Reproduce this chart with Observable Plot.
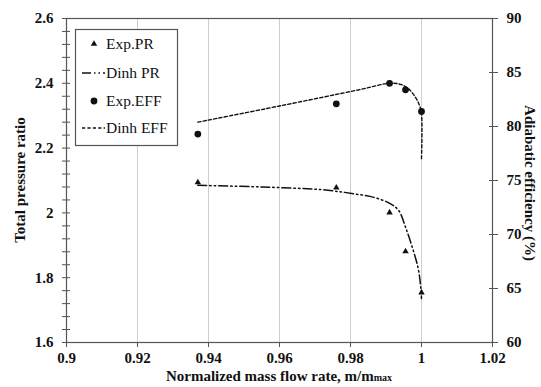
<!DOCTYPE html>
<html>
<head>
<meta charset="utf-8">
<script src="https://cdn.jsdelivr.net/npm/d3@7"></script>
<script src="https://cdn.jsdelivr.net/npm/@observablehq/plot@0.6"></script>
<style>
  html, body { margin: 0; padding: 0; background: #fff; }
</style>
</head>
<body>
<div id="chart"></div>
<script>
// ---- data ----
const expX = [0.937, 0.976, 0.991, 0.9955, 1.0];
const expPR = [2.094, 2.078, 2.001, 1.881, 1.754];
const expEFF = [79.3, 82.1, 84.0, 83.4, 81.4];

const dinhPRx = [0.937, 0.955, 0.9716, 0.9758, 0.9809, 0.9866, 0.9913, 0.9936, 0.9955, 0.9974, 0.999, 0.9997, 1.0];
const dinhPR  = [2.085, 2.080, 2.072, 2.067, 2.059, 2.048, 2.028, 2.007, 1.956, 1.894, 1.832, 1.781, 1.736];

const dinhEFFx = [0.937, 0.960, 0.9828, 0.991, 0.9941, 0.9963, 0.9983, 0.9995, 1.0, 1.0];
const dinhEFF  = [80.4, 81.9, 83.43, 84.0, 83.9, 83.5, 82.7, 81.9, 81.2, 77.0];

const xTicks = [0.9, 0.92, 0.94, 0.96, 0.98, 1.0, 1.02];
const xTickLabels = ["0.9", "0.92", "0.94", "0.96", "0.98", "1", "1.02"];
const prTicks = [1.6, 1.8, 2.0, 2.2, 2.4, 2.6];
const prTickLabels = ["1.6", "1.8", "2", "2.2", "2.4", "2.6"];
const prMinor = d3.range(26).map(i => +(1.6 + i * 0.04).toFixed(2));
const effTicks = [60, 65, 70, 75, 80, 85, 90];
const effTickLabels = ["60", "65", "70", "75", "80", "85", "90"];

const legendItems = ["Exp.PR", "Dinh PR", "Exp.EFF", "Dinh EFF"];

// secondary axis mapping: efficiency 60..90 onto pressure ratio 1.6..2.6
const toPR = e => 1.6 + (e - 60) / 30;
const effTicksPR = effTicks.map(toPR);

const INK = "#111";
const AX = "#555";
const PR_DASH = "9,3,1.5,3,1.5,3";
const EFF_DASH = "3.2,2.2";

const chart = Plot.plot({
  width: 541,
  height: 387,
  marginLeft: 66,
  marginRight: 49,
  marginTop: 18,
  marginBottom: 45,
  style: {
    fontFamily: "'Liberation Serif', 'Times New Roman', serif",
    fontSize: "15px",
    color: INK,
    background: "#fff",
    overflow: "visible"
  },
  x: { domain: [0.9, 1.02] },
  y: { domain: [1.6, 2.6] },
  marks: [
    Plot.gridX(xTicks.slice(1, -1), { stroke: "#cfcfcf", strokeOpacity: 1 }),
    Plot.frame({ stroke: AX, strokeWidth: 1.2 }),
    // bottom axis
    Plot.axisX(xTicks, { tickSize: 5, fill: "none", stroke: AX, label: null }),
    Plot.axisX(xTicks, { tickSize: 0, tickPadding: 10, fontWeight: "bold", fontSize: 15,
      tickFormat: d => xTickLabels[xTicks.indexOf(d)], label: null }),
    // left axis
    Plot.axisY(prMinor, { anchor: "left", tickSize: 8, dx: 4, fill: "none", stroke: AX, label: null }),
    Plot.axisY(prTicks, { anchor: "left", tickSize: 0, tickPadding: 13, fontWeight: "bold", fontSize: 15,
      tickFormat: d => prTickLabels[prTicks.indexOf(d)], label: null }),
    // right axis
    Plot.axisY(effTicksPR, { anchor: "right", tickSize: 9, dx: -4, fill: "none", stroke: AX, label: null }),
    Plot.axisY(effTicksPR, { anchor: "right", tickSize: 0, tickPadding: 14, fontWeight: "bold", fontSize: 15,
      tickFormat: d => effTickLabels[effTicksPR.indexOf(d)], label: null }),
    // model lines
    Plot.line(dinhPR, { x: dinhPRx, y: dinhPR, curve: "catmull-rom", stroke: INK, strokeWidth: 1.5,
      strokeDasharray: PR_DASH }),
    Plot.line(dinhEFF, { x: dinhEFFx, y: dinhEFF.map(toPR), curve: "catmull-rom", stroke: INK, strokeWidth: 1.4,
      strokeDasharray: EFF_DASH }),
    // experimental points
    Plot.dot(expPR, { x: expX, y: expPR, symbol: "triangle", r: 2.4, fill: INK, stroke: "none" }),
    Plot.dot(expEFF, { x: expX, y: expEFF.map(toPR), r: 3.4, fill: INK, stroke: "none" })
  ]
});

document.getElementById("chart").appendChild(chart);

const svg = d3.select(chart);
const FONT = "'Liberation Serif', 'Times New Roman', serif";

// make all tick labels bold
svg.selectAll("g[aria-label$='tick label']").attr("font-weight", "bold")
  .selectAll("text").attr("font-weight", "bold");

// axis titles
svg.append("text")
  .attr("transform", "translate(25,180) rotate(-90)")
  .attr("text-anchor", "middle")
  .attr("font-family", FONT).attr("font-weight", "bold").attr("font-size", 15).attr("fill", INK)
  .text("Total pressure ratio");

svg.append("text")
  .attr("transform", "translate(525,183) rotate(90)")
  .attr("text-anchor", "middle")
  .attr("font-family", FONT).attr("font-weight", "bold").attr("font-size", 15).attr("fill", INK)
  .text("Adiabatic efficiency (%)");

const xt = svg.append("text")
  .attr("x", 279).attr("y", 381)
  .attr("text-anchor", "middle")
  .attr("font-family", FONT).attr("font-weight", "bold").attr("font-size", 15).attr("fill", INK);
xt.append("tspan").text("Normalized mass flow rate, m/m");
xt.append("tspan").attr("font-size", 10).text("max");

// legend
const lg = svg.append("g").attr("font-family", FONT).attr("font-size", 15.5).attr("fill", INK)
  .attr("text-anchor", "start");
lg.append("rect").attr("x", 75.5).attr("y", 29.5).attr("width", 102).attr("height", 116)
  .attr("fill", "#fff").attr("stroke", AX).attr("stroke-width", 1.2);
const rowY = [44, 73, 101, 128];
legendItems.forEach((name, i) => {
  const y = rowY[i];
  if (i === 0) {
    lg.append("path").attr("d", d3.symbol(d3.symbolTriangle, Math.PI * 2.4 * 2.4)())
      .attr("transform", `translate(94,${y})`).attr("fill", INK);
  } else if (i === 2) {
    lg.append("circle").attr("cx", 94).attr("cy", y).attr("r", 3.4).attr("fill", INK);
  } else {
    lg.append("line").attr("x1", 82).attr("x2", 105).attr("y1", y).attr("y2", y)
      .attr("stroke", INK).attr("stroke-width", 1.4)
      .attr("stroke-dasharray", i === 1 ? PR_DASH : EFF_DASH);
  }
  lg.append("text").attr("x", 106).attr("y", y).attr("dy", "0.35em")
    .attr("text-anchor", "start").text(name);
});
</script>
</body>
</html>
